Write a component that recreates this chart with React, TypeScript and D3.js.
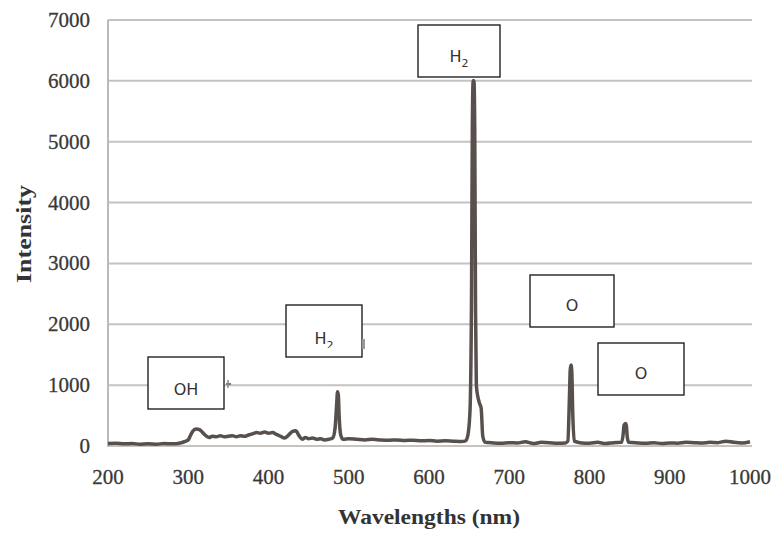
import React from "react";
import * as d3 from "d3";

const wavelengths = [
  200, 210, 220, 230, 240, 250, 260, 270, 280, 290, 295, 300, 303, 306, 310, 314, 318, 322, 326, 330,
  335, 340, 345, 350, 355, 360, 365, 370, 375, 380, 385, 390, 395, 400, 405, 410, 415, 420, 425, 430,
  434, 438, 442, 446, 450, 455, 460, 465, 470, 475, 480, 483, 485, 486, 487, 488, 490, 493, 500, 510,
  520, 530, 540, 550, 560, 570, 580, 590, 600, 610, 620, 630, 640, 645, 648, 651, 653, 654, 655, 656,
  657, 658, 659, 661, 663, 665, 667, 670, 680, 690, 700, 710, 720, 730, 740, 750, 760, 770, 773, 775,
  776, 777, 778, 779, 781, 790, 800, 810, 820, 830, 840, 842, 843, 845, 846, 847, 849, 860, 870, 880,
  890, 900, 910, 920, 930, 940, 950, 960, 970, 980, 990, 1000,
];
const intensity = [
  40, 45, 35, 40, 30, 35, 30, 40, 35, 50, 70, 100, 180, 250, 280, 270, 220, 170, 140, 160,
  150, 170, 150, 160, 170, 150, 170, 160, 180, 200, 220, 210, 230, 210, 220, 190, 160, 130, 180, 240,
  250, 170, 110, 140, 120, 130, 110, 120, 100, 110, 130, 300, 700, 890, 840, 500, 180, 110, 120, 110,
  100, 110, 100, 95, 100, 90, 95, 85, 90, 80, 85, 80, 75, 80, 150, 550, 2500, 5200, 6000, 6000,
  5200, 2200, 1000, 800, 700, 620, 160, 60, 50, 45, 55, 50, 70, 40, 60, 55, 45, 50, 80, 800,
  1250, 1330, 1200, 600, 80, 50, 45, 60, 40, 55, 60, 200, 340, 370, 330, 150, 60, 50, 45, 55,
  40, 50, 45, 60, 55, 50, 60, 55, 80, 60, 50, 70,
];

const xTicks = [200, 300, 400, 500, 600, 700, 800, 900, 1000];
const yTicks = [0, 1000, 2000, 3000, 4000, 5000, 6000, 7000];

const labelText = ["H", "H", "OH", "O", "O"];
const labelSub = ["2", "2", "", "", ""];
const labelBoxes = [
  { x0: 418, y0: 25, x1: 500, y1: 77, ty: 62, clip: false },
  { x0: 286, y0: 305, x1: 362, y1: 357, ty: 344, clip: true },
  { x0: 148, y0: 357, x1: 224, y1: 409, ty: 395, clip: false },
  { x0: 530, y0: 275, x1: 614, y1: 327, ty: 311, clip: false },
  { x0: 598, y0: 343, x1: 684, y1: 395, ty: 379, clip: false },
];

export default function App() {
  const W = 777;
  const H = 536;
  const x = d3.scaleLinear().domain([200, 1000]).range([108, 750]);
  const y = d3.scaleLinear().domain([0, 7000]).range([446, 20]);
  const pts = wavelengths.map((w, i) => [w, intensity[i]] as [number, number]);
  const line = d3
    .line<[number, number]>()
    .x((d) => x(d[0]))
    .y((d) => y(d[1]))
    .curve(d3.curveMonotoneX);

  return (
    <svg
      width={W}
      height={H}
      style={{ position: "absolute", left: 0, top: 0, background: "#fff" }}
    >
      <rect x={0} y={0} width={W} height={H} fill="#fff" />
      {yTicks.map((t) => (
        <line key={t} x1={108} x2={752} y1={y(t)} y2={y(t)} stroke="#c6c2bf" strokeWidth={2} />
      ))}
      <line x1={108} x2={108} y1={20} y2={447} stroke="#bdb9b6" strokeWidth={2} />
      {yTicks.map((t) => (
        <text
          key={t}
          x={90}
          y={y(t) + 7}
          textAnchor="end"
          fontFamily="'Liberation Serif', serif"
          fontSize={21}
          fill="#3a3837"
          stroke="#3a3837"
          strokeWidth={0.3}
        >
          {t}
        </text>
      ))}
      {xTicks.map((t) => (
        <text
          key={t}
          x={x(t)}
          y={484}
          textAnchor="middle"
          fontFamily="'Liberation Serif', serif"
          fontSize={21}
          fill="#3a3837"
          stroke="#3a3837"
          strokeWidth={0.3}
        >
          {t}
        </text>
      ))}
      <path d={line(pts) || ""} fill="none" stroke="#57504c" strokeWidth={3.5} strokeLinejoin="round" />
      <text
        x={429}
        y={524}
        textAnchor="middle"
        fontFamily="'Liberation Serif', serif"
        fontWeight="bold"
        fontSize={22}
        fill="#333"
        textLength={182}
        lengthAdjust="spacingAndGlyphs"
      >
        Wavelengths (nm)
      </text>
      <text
        transform="translate(31,234) rotate(-90)"
        textAnchor="middle"
        fontFamily="'Liberation Serif', serif"
        fontWeight="bold"
        fontSize={21}
        fill="#333"
        textLength={98}
        lengthAdjust="spacingAndGlyphs"
      >
        Intensity
      </text>
      <defs>
        <clipPath id="clipH2b">
          <rect x={286} y={305} width={76} height={43} />
        </clipPath>
      </defs>
      {labelBoxes.map((b, i) => (
        <g key={i}>
          <rect
            x={b.x0}
            y={b.y0}
            width={b.x1 - b.x0}
            height={b.y1 - b.y0}
            fill="#fff"
            stroke="#111"
            strokeWidth={1.3}
          />
          <g clipPath={b.clip ? "url(#clipH2b)" : undefined}>
            <text
              x={(b.x0 + b.x1) / 2}
              y={b.ty}
              textAnchor="middle"
              fontFamily="'DejaVu Sans', 'Noto Sans', sans-serif"
              fontSize={16}
              fill="#333"
            >
              {labelText[i]}
              {labelSub[i] && (
                <tspan fontSize={11} dy={5}>
                  {labelSub[i]}
                </tspan>
              )}
            </text>
          </g>
        </g>
      ))}
      <line x1={226} x2={231} y1={384} y2={384} stroke="#777" strokeWidth={2} />
      <line x1={228} x2={228} y1={380} y2={388} stroke="#888" strokeWidth={1.5} />
      <rect x={362} y={339} width={3} height={10} fill="#999" />
    </svg>
  );
}
